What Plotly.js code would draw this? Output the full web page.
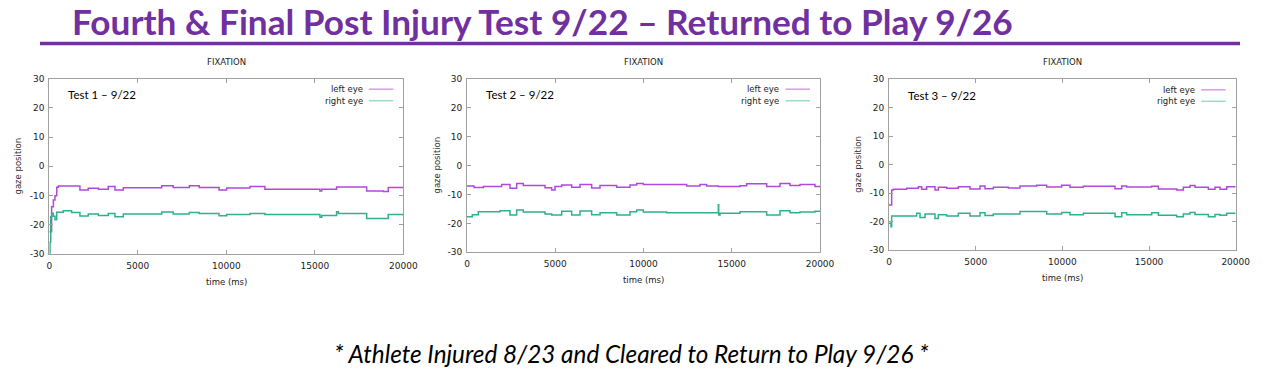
<!DOCTYPE html>
<html>
<head>
<meta charset="utf-8">
<script src="https://cdn.plot.ly/plotly-3.0.1.min.js"></script>
<style>
html,body{margin:0;padding:0;background:#fff;}
#chart{width:1269px;height:375px;}
</style>
</head>
<body>
<div id="chart"></div>
<script>
// ---------- DATA ----------
const mainTitle = "Fourth & Final Post Injury Test 9/22 \u2013 Returned to Play 9/26";
const footnote = "* Athlete Injured 8/23 and Cleared to Return to Play 9/26 *";
const panelTitle = "FIXATION";
const testLabels = ["Test 1 \u2013 9/22", "Test 2 \u2013 9/22", "Test 3 \u2013 9/22"];
const seriesNames = ["left eye", "right eye"];
const xTickVals = [0, 5000, 10000, 15000, 20000];
const yTickVals = [-30, -20, -10, 0, 10, 20, 30];

// Test 1
const t1Left = [0, 130, 230, 320, 420, 510, 1730, 2200, 2770, 3330, 3710, 4180, 6350, 7000, 7910, 8470, 9590, 10020, 11340, 12180, 15290, 15390, 16230, 16330, 17930, 18870, 19150, 20000];
const v1Left = [-22.5, -13.9, -11.6, -10.1, -7.2, -6.8, -8.2, -7.6, -7.9, -7.0, -8.2, -7.4, -6.7, -7.3, -6.7, -7.3, -8.2, -7.5, -7.0, -7.9, -8.5, -7.9, -7.1, -7.1, -8.5, -8.7, -7.3, -7.4];
const t1Right = [0, 40, 80, 135, 230, 322, 418, 790, 1260, 1730, 2200, 2770, 3330, 3710, 4180, 6350, 7000, 7910, 8470, 9590, 10020, 11340, 12180, 15290, 15390, 16230, 16330, 17930, 19150, 20000];
const v1Right = [-30, -26, -17.3, -16.1, -17.2, -18.4, -15.8, -15.3, -15.9, -17.1, -16.4, -16.9, -16.2, -17.3, -16.4, -15.7, -16.4, -15.9, -16.2, -17.0, -16.6, -16.2, -16.6, -17.5, -16.9, -15.6, -16.2, -17.9, -16.6, -16.9];

// Test 2
const t2Left = [0, 400, 925, 1964, 2436, 2814, 3192, 4419, 4797, 4986, 5363, 5930, 6402, 7063, 7535, 8479, 9235, 9612, 9990, 12445, 13200, 13578, 14239, 15467, 15845, 16978, 17733, 18300, 18866, 19716, 20000];
const v2Left = [-7.1, -7.6, -7.3, -6.6, -7.9, -6.2, -6.9, -7.7, -8.5, -7.3, -6.7, -7.5, -6.6, -7.8, -6.9, -7.5, -6.7, -6.2, -6.6, -7.1, -6.6, -7.1, -7.3, -7.0, -6.3, -7.3, -6.2, -6.9, -6.6, -7.3, -7.3];
const t2Right = [0, 300, 642, 1870, 2436, 2814, 3192, 4419, 4797, 5363, 5930, 6402, 7063, 7535, 8479, 9235, 9612, 9990, 11312, 14239, 14260, 14334, 15467, 16978, 17733, 18300, 18866, 19716, 20000];
const v2Right = [-17.7, -17.0, -16.0, -15.6, -17.1, -15.4, -16.1, -16.8, -17.1, -15.8, -17.1, -15.7, -17.0, -16.3, -17.1, -16.0, -15.4, -16.1, -16.3, -13.6, -17.1, -16.5, -16.0, -17.1, -15.6, -16.3, -16.1, -15.8, -15.8];

// Test 3
const t3Left = [0, 154, 250, 1019, 1692, 1885, 2173, 2654, 2846, 3327, 4000, 4673, 5250, 5538, 6019, 6884, 7557, 8519, 9096, 9961, 10442, 11211, 13038, 13423, 13711, 15153, 15538, 16596, 16981, 17365, 17653, 18422, 18807, 19096, 19480, 20000];
const v3Left = [-14.1, -8.8, -8.6, -8.2, -7.7, -8.6, -7.7, -8.8, -7.9, -8.2, -7.7, -8.5, -7.4, -8.4, -7.9, -8.1, -7.4, -7.2, -7.8, -7.2, -7.9, -7.5, -8.4, -7.4, -7.8, -7.5, -8.5, -8.8, -7.9, -7.3, -7.9, -8.6, -7.9, -8.6, -7.7, -7.7];
const t3Right = [0, 115, 154, 250, 1596, 1788, 2077, 2654, 2846, 3327, 4000, 4673, 5250, 5538, 6019, 7557, 9096, 9961, 10442, 11211, 13038, 13423, 13711, 15153, 15538, 16596, 16981, 17365, 17653, 18422, 18807, 19096, 19480, 20000];
const v3Right = [-20.5, -21.7, -18.0, -18.0, -17.0, -18.5, -17.3, -18.8, -17.5, -18.0, -17.0, -18.0, -16.8, -17.8, -17.3, -16.4, -17.3, -16.7, -17.5, -17.0, -18.2, -16.8, -17.5, -16.8, -17.7, -18.2, -17.3, -16.7, -17.4, -18.2, -17.4, -17.7, -17.0, -17.0];

// ---------- STYLE / LAYOUT ----------
const W = 1269, H = 375;
const colLeft = "#b048de", colRight = "#2fb08e";
const legLeft = "#d49cf0", legRight = "#9adcc8";
const smallFamily = "DejaVu Sans, Verdana, sans-serif";
const tickFont = {family: smallFamily, size: 9, color: "#222"};

// plot boxes in pixels: [left, right, top, bottom]
const boxes = [
  [49.3, 403.3, 78.7, 253.7],
  [467, 820, 78.7, 252.3],
  [889, 1235.7, 79.3, 250.3]
];
const data = [
  [t1Left, v1Left, t1Right, v1Right],
  [t2Left, v2Left, t2Right, v2Right],
  [t3Left, v3Left, t3Right, v3Right]
];

const px = x => x / W;
const py = y => 1 - y / H;

const traces = [];
const layout = {
  width: W, height: H,
  margin: {l: 0, r: 0, t: 0, b: 0},
  paper_bgcolor: "#fff", plot_bgcolor: "#fff",
  showlegend: false,
  annotations: [], shapes: []
};

boxes.forEach((b, i) => {
  const n = i + 1;
  const xa = n === 1 ? "xaxis" : "xaxis" + n;
  const ya = n === 1 ? "yaxis" : "yaxis" + n;
  const xr = n === 1 ? "x" : "x" + n;
  const yr = n === 1 ? "y" : "y" + n;
  const [L, R, T, B] = b;
  const axCommon = {
    showgrid: false, zeroline: false, showline: true, mirror: "ticks",
    linecolor: "#a0a0a0", linewidth: 1, ticks: "inside", ticklen: 4,
    tickcolor: "#a0a0a0", tickfont: tickFont, fixedrange: true
  };
  layout[xa] = Object.assign({}, axCommon, {
    domain: [px(L), px(R)], range: [0, 20000], tickvals: xTickVals,
    ticktext: xTickVals.map(String), anchor: yr, ticklabelstandoff: 3
  });
  layout[ya] = Object.assign({}, axCommon, {
    domain: [py(B), py(T)], range: [-30, 30], tickvals: yTickVals,
    ticktext: yTickVals.map(String), anchor: xr, ticklabelstandoff: 2
  });
  const d = data[i];
  traces.push({x: d[0], y: d[1], xaxis: xr, yaxis: yr, type: "scatter", mode: "lines",
    line: {color: colLeft, width: 1.5, shape: "hv"}, name: seriesNames[0], hoverinfo: "skip"});
  traces.push({x: d[2], y: d[3], xaxis: xr, yaxis: yr, type: "scatter", mode: "lines",
    line: {color: colRight, width: 1.5, shape: "hv"}, name: seriesNames[1], hoverinfo: "skip"});

  const cx = (L + R) / 2;
  // panel title
  layout.annotations.push({text: panelTitle, xref: "paper", yref: "paper", x: px(cx), y: py(61.7),
    showarrow: false, xanchor: "center", yanchor: "middle",
    font: {family: smallFamily, size: 8.5, color: "#222"}});
  // x title
  layout.annotations.push({text: "time (ms)", xref: "paper", yref: "paper", x: px(cx), y: py(B + 28),
    showarrow: false, xanchor: "center", yanchor: "middle",
    font: {family: smallFamily, size: 8.5, color: "#222"}});
  // y title
  layout.annotations.push({text: "gaze position", xref: "paper", yref: "paper", x: px(L - 31), y: py((T + B) / 2),
    showarrow: false, xanchor: "center", yanchor: "middle", textangle: -90,
    font: {family: smallFamily, size: 8.5, color: "#333"}});
  // test label
  layout.annotations.push({text: testLabels[i], xref: "paper", yref: "paper", x: px(L + 16.5), y: py(T + 16),
    showarrow: false, xanchor: "left", yanchor: "middle",
    font: {family: "Lato, Open Sans, sans-serif", size: 11.5, color: "#000"}});
  // legend (gnuplot style: text then sample on the right)
  [[seriesNames[0], legLeft, 10.5], [seriesNames[1], legRight, 22]].forEach(([txt, col, dy]) => {
    layout.annotations.push({text: txt, xref: "paper", yref: "paper", x: px(R - 38.5), y: py(T + dy),
      showarrow: false, xanchor: "right", yanchor: "middle",
      font: {family: smallFamily, size: 8.5, color: "#222"}});
    layout.shapes.push({type: "line", xref: "paper", yref: "paper",
      x0: px(R - 34.5), x1: px(R - 10), y0: py(T + dy), y1: py(T + dy),
      line: {color: col, width: 1.5}});
  });
});

// main title + underline + footnote
layout.annotations.push({text: "<b>" + mainTitle.replace("&", "&amp;") + "</b>", xref: "paper", yref: "paper",
  x: px(70), y: py(21), showarrow: false, xanchor: "left", yanchor: "middle",
  font: {family: "Lato, Open Sans, sans-serif", size: 35.2, color: "#7030A0"}});
layout.shapes.push({type: "line", xref: "paper", yref: "paper", x0: px(40), x1: px(1240),
  y0: py(43.5), y1: py(43.5), line: {color: "#7030A0", width: 3.5}});
layout.annotations.push({text: "<i>" + footnote + "</i>", xref: "paper", yref: "paper",
  x: px(631), y: py(353), showarrow: false, xanchor: "center", yanchor: "middle",
  font: {family: "Lato, Open Sans, sans-serif", size: 24.3, color: "#000"}});

Plotly.newPlot("chart", traces, layout, {staticPlot: true, displayModeBar: false});
</script>
</body>
</html>
